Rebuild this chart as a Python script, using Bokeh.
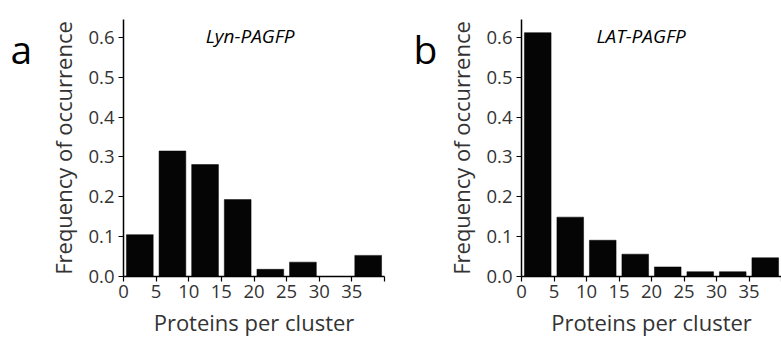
from bokeh.plotting import figure
from bokeh.layouts import row
from bokeh.models import FixedTicker, Label, Range1d
from bokeh.core.properties import value
from bokeh.embed import file_html
from bokeh.resources import INLINE

# ---- data ----
bin_starts = [0, 5, 10, 15, 20, 25, 30, 35]
bin_centers = [2.5, 7.5, 12.5, 17.5, 22.5, 27.5, 32.5, 37.5]
lyn_freq = [0.105, 0.315, 0.281, 0.193, 0.018, 0.036, 0.0, 0.053]
lat_freq = [0.612, 0.149, 0.091, 0.056, 0.024, 0.012, 0.012, 0.047]
x_ticks = [0, 5, 10, 15, 20, 25, 30, 35, 40]
y_ticks = [0.0, 0.1, 0.2, 0.3, 0.4, 0.5, 0.6]
titles = ["Lyn-PAGFP", "LAT-PAGFP"]
letters = ["a", "b"]

FONT = "Open Sans"
TXT = "#333333"
LETTER_W = 40


def letter_panel(letter, x_px):
    f = figure(width=LETTER_W, height=341, output_backend="svg", toolbar_location=None,
               x_range=Range1d(0, LETTER_W), y_range=Range1d(0, 341),
               min_border=0, min_border_left=0, min_border_right=0,
               min_border_top=0, min_border_bottom=0)
    f.axis.visible = False
    f.grid.visible = False
    f.outline_line_color = None
    f.text(x=[x_px], y=[341 - 39], text=[letter], text_align="left",
           text_baseline="alphabetic", text_font=value(FONT),
           text_font_size="39px", text_color="black")
    return f


def make_panel(freq, title, width, right_border, title_x):
    p = figure(width=width, height=341, output_backend="svg", toolbar_location=None,
               x_range=Range1d(0, 40), y_range=Range1d(0, 0.645),
               min_border_left=123 - LETTER_W, min_border_right=right_border,
               min_border_top=19, min_border_bottom=65)
    p.outline_line_color = None
    p.grid.visible = False
    p.background_fill_color = "white"
    p.border_fill_color = "white"

    p.vbar(x=bin_centers, top=freq, width=4.1, bottom=0,
           fill_color="#050505", line_color="#050505", line_width=0.5)

    p.xaxis.ticker = FixedTicker(ticks=x_ticks)
    p.xaxis.major_label_overrides = {40: ""}
    p.yaxis.ticker = FixedTicker(ticks=y_ticks)
    p.yaxis.major_label_overrides = {t: f"{t:.1f}" for t in y_ticks}

    for ax in (p.xaxis[0], p.yaxis[0]):
        ax.axis_line_color = "black"
        ax.axis_line_width = 1.5
        ax.major_tick_line_color = "black"
        ax.major_tick_line_width = 1.2
        ax.major_tick_out = 5
        ax.major_tick_in = 0
        ax.minor_tick_line_color = None
        ax.major_label_text_font = FONT
        ax.major_label_text_font_size = "18.5px"
        ax.major_label_text_color = TXT
        ax.axis_label_text_font = FONT
        ax.axis_label_text_font_size = "22px"
        ax.axis_label_text_font_style = "normal"
        ax.axis_label_text_color = TXT

    p.xaxis.axis_label = "Proteins per cluster"
    p.xaxis.major_label_standoff = 3
    p.xaxis.axis_label_standoff = 6
    p.yaxis.axis_label = "Frequency of occurrence"
    p.yaxis.major_label_standoff = 4
    p.yaxis.axis_label_standoff = 7

    p.add_layout(Label(x=title_x, y=0.57, text=title, text_align="center",
                       text_font=FONT, text_font_style="italic",
                       text_font_size="19px", text_color="black"))
    return p


la = letter_panel(letters[0], 10)
pa = make_panel(lyn_freq, titles[0], 398 - LETTER_W, 14, 19.4)
lb = letter_panel(letters[1], 15)
pb = make_panel(lat_freq, titles[1], 383 - LETTER_W, 0, 18.4)

layout = row(la, pa, lb, pb)
open("out.html", "w").write(file_html(layout, INLINE))
